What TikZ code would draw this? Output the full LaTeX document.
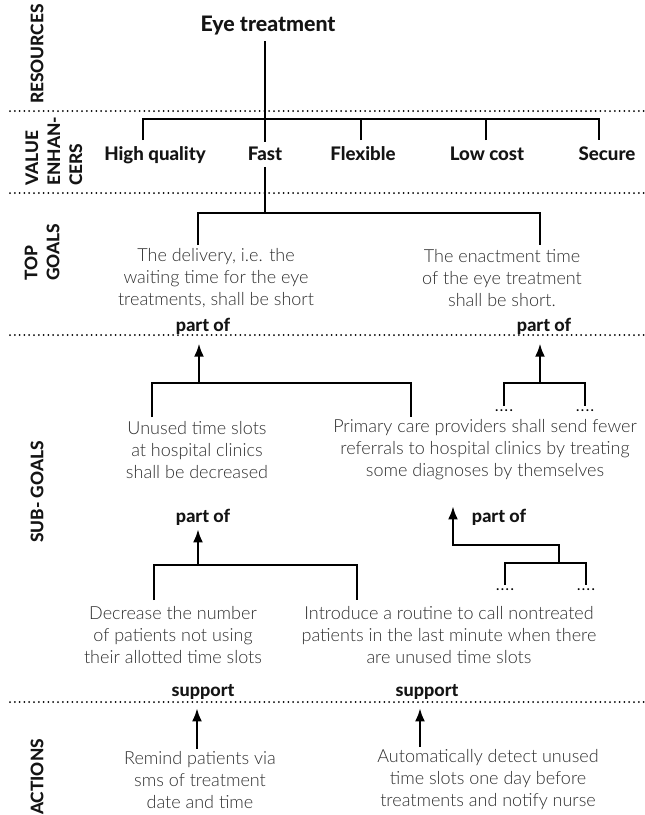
\documentclass[tikz,border=0pt]{standalone}
\usepackage{fontspec}
\setmainfont{Lato}
\newfontfamily\lightfont{Lato Light}
\newfontfamily\heavyfont{Lato Heavy}
\usetikzlibrary{arrows.meta}
\definecolor{txtgray}{HTML}{2E2E2E}
\definecolor{inkblack}{HTML}{141414}

\begin{document}
\begin{tikzpicture}[x=0.75pt,y=-0.75pt,>={Latex[length=10pt,width=7.5pt]},line width=2pt,
  sep/.style={line width=1.5pt,dash pattern=on 0pt off 3.6pt,line cap=round},
  side/.style={rotate=90,font=\heavyfont\fontsize{13}{16.5}\selectfont,align=left,inner sep=0pt,text=inkblack},
  enh/.style={font=\heavyfont\fontsize{14}{16}\selectfont,anchor=base,inner sep=1pt,text=inkblack},
  goal/.style={font=\lightfont\fontsize{13.5}{16.5}\selectfont,text=txtgray,align=center,inner sep=1pt},
  rel/.style={font=\heavyfont\fontsize{13.5}{15}\selectfont,anchor=base,inner sep=1pt,text=inkblack},
  ends/.style={font=\heavyfont\fontsize{9}{10}\selectfont,anchor=north,inner sep=1.5pt}]
\useasboundingbox (0,0) rectangle (644,815);

% layer separators
\foreach \y in {111,193,335,702}
  \draw[sep] (10,\y) -- (644,\y);

% layer names
\node[side] (res) at (37,54) {RESOURCES};
\node[side,anchor=west] (ven) at (54,187) {VALUE\\ENHAN-\\CERS};
\node[side,anchor=west] (topg) at (42,282) {TOP\\GOALS};
\node[side] (subg) at (37,492) {SUB- GOALS};
\node[side] (act) at (37,777) {ACTIONS};

% resource and value enhancers
\node[font=\heavyfont\fontsize{16}{18}\selectfont,text=inkblack] (title) at (268,26) {Eye treatment};
\node[enh] (hq) at (155,160) {High quality};
\node[enh] (fast) at (265,160) {Fast};
\node[enh] (flex) at (363,160) {Flexible};
\node[enh] (lowc) at (487,160) {Low cost};
\node[enh] (sec) at (607,160) {Secure};

\coordinate (veBar) at (265,119);
\coordinate (fastTop) at (265,142);
\coordinate (hqTop) at (143,140);
\coordinate (flexTop) at (361,140);
\coordinate (lowTop) at (486,140);
\coordinate (secTop) at (599,140);
\draw (title.south -| fastTop) -- (fastTop);
\draw (hqTop) |- (veBar) -| (secTop);
\draw (flexTop) -- (flexTop |- veBar);
\draw (lowTop) -- (lowTop |- veBar);

% top goals
\node[goal] (tg1) at (216,278) {The delivery, i.e. the\\waiting time for the eye\\treatments, shall be short};
\node[goal] (tg2) at (502,278) {The enactment time\\of the eye treatment\\shall be short.};
\node[rel] (po1) at (203,331) {part of};
\node[rel] (po2) at (544,331) {part of};

\coordinate (tgBar) at (265,213);
\coordinate (tg1Top) at (198,245);
\coordinate (tg2Top) at (540,245);
\draw[shorten <=3pt] (fast.south) -- (tgBar);
\draw (tg1Top) |- (tgBar) -| (tg2Top);

% sub-goals
\node[goal] (sg1) at (197,450) {Unused time slots\\at hospital clinics\\shall be decreased};
\node[goal] (sg2) at (485,450) {Primary care providers shall send fewer\\referrals to hospital clinics by treating\\some diagnoses by themselves};
\node[ends] (dA) at (504,406) {.\,.\,.\,.};
\node[ends] (dB) at (585,406) {.\,.\,.\,.};

\coordinate (sgBarL) at (199,383);
\coordinate (sg1Top) at (152,417);
\coordinate (sg2Top) at (411,417);
\coordinate (sgBarR) at (540,383);
\draw[->,shorten >=5pt] (sgBarL) -- (sgBarL |- po1.south);
\draw (sg1Top) |- (sgBarL) -| (sg2Top);
\draw[->,shorten >=5pt] (sgBarR) -- (sgBarR |- po2.south);
\draw (dA) |- (sgBarR) -| (dB);

\node[rel] (po3) at (203,522) {part of};
\node[rel] (po4) at (499,522) {part of};

% action goals
\node[goal] (ag1) at (173,635) {Decrease the number\\of patients not using\\their allotted time slots};
\node[goal] (ag2) at (449,635) {Introduce a routine to call nontreated\\patients in the last minute when there\\are unused time slots};
\node[ends] (dC) at (505,585) {.\,.\,.\,.};
\node[ends] (dD) at (586,585) {.\,.\,.\,.};

\coordinate (agBarL) at (198,565);
\coordinate (ag1Top) at (154,600);
\coordinate (ag2Top) at (357,600);
\coordinate (agBarR) at (559,563);
\coordinate (elbowR) at (453,545);
\draw[->,shorten >=1pt] (agBarL) -- (agBarL |- po3.south);
\draw (ag1Top) |- (agBarL) -| (ag2Top);
\draw[->] (agBarR) |- (elbowR) -- (elbowR |- po4.north);
\draw (dC) |- (agBarR) -| (dD);

\node[rel] (su1) at (203,696) {support};
\node[rel] (su2) at (427,696) {support};

% actions
\node[goal] (ac1) at (200,780) {Remind patients via\\sms of treatment\\date and time};
\node[goal] (ac2) at (488,780) {Automatically detect unused\\time slots one day before\\treatments and notify nurse};

\coordinate (su1Tip) at (197,708);
\coordinate (su2Tip) at (420,708);
\draw[->] (ac1.north -| su1Tip) -- (su1Tip);
\draw[->] (ac2.north -| su2Tip) -- (su2Tip);
\end{tikzpicture}
\end{document}
